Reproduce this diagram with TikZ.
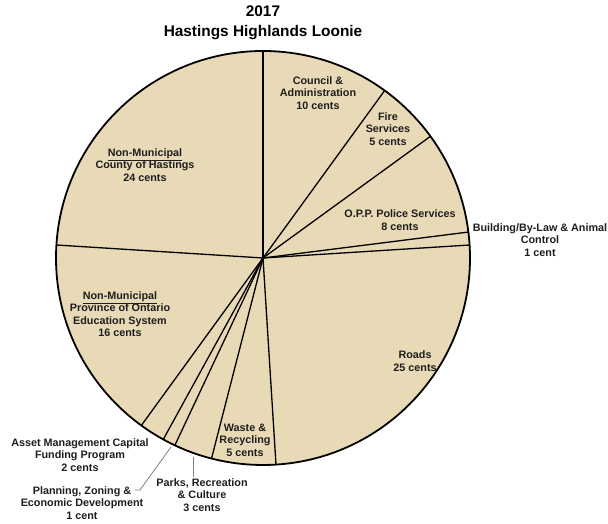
\documentclass[tikz,border=0pt]{standalone}
\usepackage{fontspec}
\setmainfont{Liberation Sans}
\usepackage{xcolor}
\definecolor{parchment}{RGB}{233,218,183}
\definecolor{inkgray}{RGB}{30,30,30}

\begin{document}
\begin{tikzpicture}[x=1pt,y=1pt]
		\tikzset{slice/.style={draw=black, line width=1.3pt}, rim/.style={draw=black, line width=1.8pt},
		label/.style={align=center, font=\bfseries\fontsize{10.8}{12.5}\selectfont, text=inkgray, inner sep=1pt},
		leader/.style={draw=gray, line width=0.8pt}}
		\useasboundingbox (0,0) rectangle (608,524);
		\coordinate (c) at (263,266);
		\fill[parchment] (c) circle (207);
		%slices
		\draw[slice] (c) -- +(90:207);
		\draw[slice] (c) -- +(54:207);
		\draw[slice] (c) -- +(36:207);
		\draw[slice] (c) -- +(7.2:207);
		\draw[slice] (c) -- +(3.6:207);
		\draw[slice] (c) -- +(-86.4:207);
		\draw[slice] (c) -- +(-104.4:207);
		\draw[slice] (c) -- +(-115.2:207);
		\draw[slice] (c) -- +(-118.8:207);
		\draw[slice] (c) -- +(-126:207);
		\draw[slice] (c) -- +(176.4:207);
		\draw[rim] (c) circle (207);
		%title
		\node[align=center, font=\bfseries\fontsize{15.4}{20}\selectfont] (title) at (263,501) {2017\\Hastings Highlands Loonie};
		%labels
		\node[label] (council) at (318,431) {Council \&\\Administration\\10 cents};
		\node[label] (fire) at (388,395) {Fire\\Services\\5 cents};
		\node[label] (police) at (400,304) {O.P.P. Police Services\\8 cents};
		\node[label] (building) at (540,284) {Building/By-Law \& Animal\\Control\\1 cent};
		\node[label] (roads) at (415,163) {Roads\\25 cents};
		\node[label] (waste) at (245,84) {Waste \&\\Recycling\\5 cents};
		\node[label] (parks) at (202,29) {Parks, Recreation\\\& Culture\\3 cents};
		\node[label] (planning) at (82,21) {Planning, Zoning \&\\Economic Development\\1 cent};
		\node[label] (asset) at (80,69) {Asset Management Capital\\Funding Program\\2 cents};
		\node[label] (province) at (120,210) {\underline{Non-Municipal}\\Province of Ontario\\Education System\\16 cents};
		\node[label] (county) at (145,359) {\underline{Non-Municipal}\\County of Hastings\\24 cents};
		%leaders
		\coordinate (parksTip) at (193,67);
		\coordinate (planTip) at (171,77);
		\coordinate (planBend) at (140,34);
		\draw[leader] (parksTip) -- (parksTip |- parks.north);
		\draw[leader] (planTip) -- (planBend) -- +(-5,0);
		\end{tikzpicture}
\end{document}
